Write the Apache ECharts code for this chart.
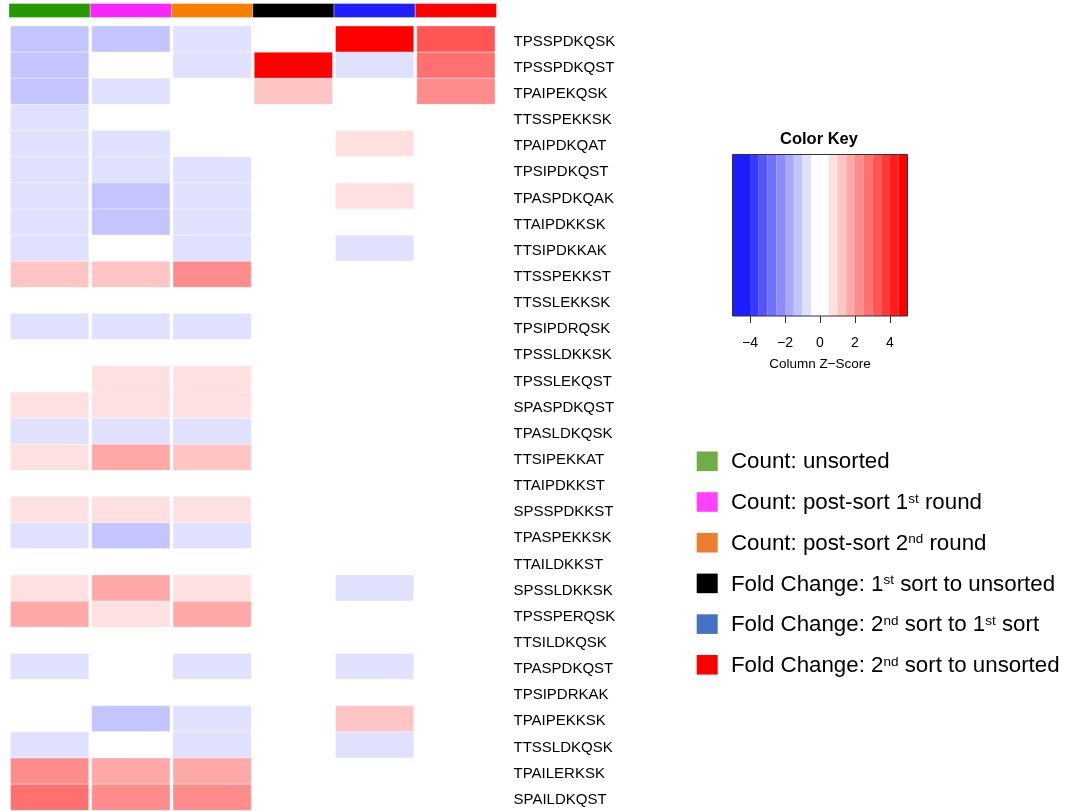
<!DOCTYPE html>
<html>
<head>
<meta charset="utf-8">
<script src="https://cdn.jsdelivr.net/npm/echarts@6/dist/echarts.min.js"></script>
<style>
  html, body { margin: 0; padding: 0; background: #ffffff; }
  #main { width: 1072px; height: 811px; }
</style>
</head>
<body>
<div id="main"></div>
<script>
// Peptide rows, top to bottom
const peptides = [
  'TPSSPDKQSK', 'TPSSPDKQST', 'TPAIPEKQSK', 'TTSSPEKKSK', 'TPAIPDKQAT',
  'TPSIPDKQST', 'TPASPDKQAK', 'TTAIPDKKSK', 'TTSIPDKKAK', 'TTSSPEKKST',
  'TTSSLEKKSK', 'TPSIPDRQSK', 'TPSSLDKKSK', 'TPSSLEKQST', 'SPASPDKQST',
  'TPASLDKQSK', 'TTSIPEKKAT', 'TTAIPDKKST', 'SPSSPDKKST', 'TPASPEKKSK',
  'TTAILDKKST', 'SPSSLDKKSK', 'TPSSPERQSK', 'TTSILDKQSK', 'TPASPDKQST',
  'TPSIPDRKAK', 'TPAIPEKKSK', 'TTSSLDKQSK', 'TPAILERKSK', 'SPAILDKQST'
];

// Column z-scores, one value per peptide row
const zCountUnsorted = [
  -1.25, -1.25, -1.25, -0.75, -0.75, -0.75, -0.75, -0.75, -0.75, 1.25,
  0, -0.75, 0, 0, 0.75, -0.75, 0.75, 0, 0.75, -0.75,
  0, 0.75, 1.75, 0, -0.75, 0, 0, -0.75, 2.25, 2.75
];
const zCountSort1 = [
  -1.25, 0, -0.75, 0, -0.75, -0.75, -1.25, -1.25, 0, 1.25,
  0, -0.75, 0, 0.75, 0.75, -0.75, 1.75, 0, 0.75, -1.25,
  0, 1.75, 0.75, 0, 0, 0, -1.25, 0, 1.75, 2.25
];
const zCountSort2 = [
  -0.75, -0.75, 0, 0, 0, -0.75, -0.75, -0.75, -0.75, 2.25,
  0, -0.75, 0, 0.75, 0.75, -0.75, 1.25, 0, 0.75, -0.75,
  0, 0.75, 1.75, 0, -0.75, 0, -0.75, -0.75, 1.75, 2.25
];
const zFoldSort1VsUnsorted = [
  0, 4.75, 1.25, 0, 0, 0, 0, 0, 0, 0,
  0, 0, 0, 0, 0, 0, 0, 0, 0, 0,
  0, 0, 0, 0, 0, 0, 0, 0, 0, 0
];
const zFoldSort2VsSort1 = [
  4.75, -0.75, 0, 0, 0.75, 0, 0.75, 0, -0.75, 0,
  0, 0, 0, 0, 0, 0, 0, 0, 0, 0,
  0, -0.75, 0, 0, -0.75, 0, 1.25, -0.75, 0, 0
];
const zFoldSort2VsUnsorted = [
  3.25, 2.75, 2.25, 0, 0, 0, 0, 0, 0, 0,
  0, 0, 0, 0, 0, 0, 0, 0, 0, 0,
  0, 0, 0, 0, 0, 0, 0, 0, 0, 0
];
const columns = [
  zCountUnsorted, zCountSort1, zCountSort2,
  zFoldSort1VsUnsorted, zFoldSort2VsSort1, zFoldSort2VsUnsorted
];

// Column side-bar colours and legend entries
const sideColors = ['#279900', '#f826f8', '#f77f00', '#000000', '#1f1fff', '#ff0000'];
const legendColors = ['#70ad47', '#ff40ff', '#ed7d31', '#000000', '#4472c4', '#ff0000'];
const legendLabels = [
  'Count: unsorted',
  'Count: post-sort 1{sup|st} round',
  'Count: post-sort 2{sup|nd} round',
  'Fold Change: 1{sup|st} sort to unsorted',
  'Fold Change: 2{sup|nd} sort to 1{sup|st} sort',
  'Fold Change: 2{sup|nd} sort to unsorted'
];

// Colour key: break points and the colour of each interval
const keyBreaks = [-5, -4, -3.5, -3, -2.5, -2, -1.5, -1, -0.5, 0.5, 1, 1.5, 2, 2.5, 3, 3.5, 4, 4.5, 5];
const keyColors = [
  '#1c1cff', '#3838ff', '#5555ff', '#7070ff', '#8c8cff', '#a8a8ff', '#c4c4ff', '#e0e0ff',
  '#ffffff',
  '#ffe0e0', '#ffc4c4', '#ffa8a8', '#ff8c8c', '#ff7070', '#ff5555', '#ff3838', '#ff1c1c', '#ff0000'
];
const keyTicks = [-4, -2, 0, 2, 4];

const FONT = '"Liberation Sans", Arial, Helvetica, sans-serif';

function colorFor(v) {
  for (let i = 0; i < keyColors.length; i++) {
    if (v < keyBreaks[i + 1]) return keyColors[i];
  }
  return keyColors[keyColors.length - 1];
}

// Heatmap cells [column, row, z]
const cells = [];
columns.forEach((col, ci) => col.forEach((v, ri) => cells.push([ci, ri, v])));

const sideCells = sideColors.map((c, i) => [i, 0]);
const keySegments = keyColors.map((c, i) => [keyBreaks[i], keyBreaks[i + 1], i]);
const colIdx = columns.map((c, i) => i);

const chart = echarts.init(document.getElementById('main'), null, { renderer: 'canvas' });

const legendGraphics = [];
legendLabels.forEach((label, i) => {
  const cy = 461.3 + 40.7 * i;
  legendGraphics.push({
    type: 'rect',
    shape: { x: 696.7, y: cy - 9.8, width: 21, height: 19.6 },
    style: { fill: legendColors[i] }
  });
  legendGraphics.push({
    type: 'text',
    x: 731, y: cy + 1,
    style: {
      text: label,
      fill: '#000',
      font: '22.3px ' + FONT,
      verticalAlign: 'middle',
      align: 'left',
      rich: {
        sup: { fontSize: 13.5, fontFamily: FONT, verticalAlign: 'top', fill: '#000', padding: [0, 0, 7, 0] }
      }
    }
  });
});

chart.setOption({
  animation: false,
  backgroundColor: '#ffffff',
  grid: [
    { left: 9, top: 26, width: 487.5, height: 784.3 },
    { left: 9, top: 3.5, width: 487.5, height: 14 },
    { left: 732.5, top: 154.5, width: 175, height: 161.5 }
  ],
  xAxis: [
    { type: 'category', gridIndex: 0, data: colIdx, show: false },
    { type: 'category', gridIndex: 1, data: colIdx, show: false },
    {
      type: 'value', gridIndex: 2, min: -5, max: 5,
      axisLine: { show: false },
      splitLine: { show: false },
      axisTick: { show: true, customValues: keyTicks, length: 7, lineStyle: { color: '#333', width: 1 } },
      axisLabel: {
        customValues: keyTicks, margin: 20, fontSize: 14, fontFamily: FONT, color: '#000',
        formatter: v => (v < 0 ? '\u2212' + Math.abs(v) : String(v))
      },
      name: 'Column Z\u2212Score', nameLocation: 'middle', nameGap: 41,
      nameTextStyle: { fontSize: 13.5, fontFamily: FONT, color: '#000' }
    }
  ],
  yAxis: [
    {
      type: 'category', gridIndex: 0, data: peptides, inverse: true, position: 'right',
      axisLine: { show: false }, axisTick: { show: false }, splitLine: { show: false },
      axisLabel: {
        margin: 17, fontSize: 15, fontFamily: FONT, color: '#000',
        verticalAlign: 'top', lineHeight: 15, padding: [-5, 0, 0, 0]
      }
    },
    { type: 'category', gridIndex: 1, data: [''], show: false },
    { type: 'value', gridIndex: 2, min: 0, max: 1, show: false }
  ],
  graphic: [
    {
      type: 'text', x: 819, y: 139,
      style: { text: 'Color Key', font: 'bold 16.5px ' + FONT, fill: '#000', align: 'center', verticalAlign: 'middle' }
    }
  ].concat(legendGraphics),
  series: [
    {
      type: 'custom', xAxisIndex: 0, yAxisIndex: 0, data: cells,
      renderItem: (params, api) => {
        const v = api.value(2);
        const c = api.coord([api.value(0), api.value(1)]);
        const s = api.size([1, 1]);
        const fill = colorFor(v);
        return {
          type: 'rect',
          shape: { x: c[0] - s[0] / 2 + 1.5, y: c[1] - s[1] / 2, width: s[0] - 3, height: s[1] },
          style: { fill: fill, stroke: 'rgba(255,255,255,0.35)', lineWidth: 1 }
        };
      }
    },
    {
      type: 'custom', xAxisIndex: 1, yAxisIndex: 1, data: sideCells,
      renderItem: (params, api) => {
        const c = api.coord([api.value(0), api.value(1)]);
        const s = api.size([1, 1]);
        return {
          type: 'rect',
          shape: { x: c[0] - s[0] / 2, y: c[1] - s[1] / 2, width: s[0], height: s[1] },
          style: { fill: sideColors[params.dataIndex], stroke: 'rgba(255,255,255,0.35)', lineWidth: 1 }
        };
      }
    },
    {
      type: 'custom', xAxisIndex: 2, yAxisIndex: 2, data: keySegments,
      renderItem: (params, api) => {
        const p0 = api.coord([api.value(0), 0]);
        const p1 = api.coord([api.value(1), 1]);
        return {
          type: 'rect',
          shape: { x: p0[0], y: p1[1], width: p1[0] - p0[0], height: p0[1] - p1[1] },
          style: { fill: keyColors[api.value(2)] }
        };
      }
    },
    {
      type: 'custom', xAxisIndex: 2, yAxisIndex: 2, data: [[-5, 5]], z: 5,
      renderItem: (params, api) => {
        const p0 = api.coord([api.value(0), 0]);
        const p1 = api.coord([api.value(1), 1]);
        return {
          type: 'rect',
          shape: { x: p0[0], y: p1[1], width: p1[0] - p0[0], height: p0[1] - p1[1] },
          style: { fill: 'none', stroke: '#333', lineWidth: 1 }
        };
      }
    }
  ]
});
</script>
</body>
</html>
